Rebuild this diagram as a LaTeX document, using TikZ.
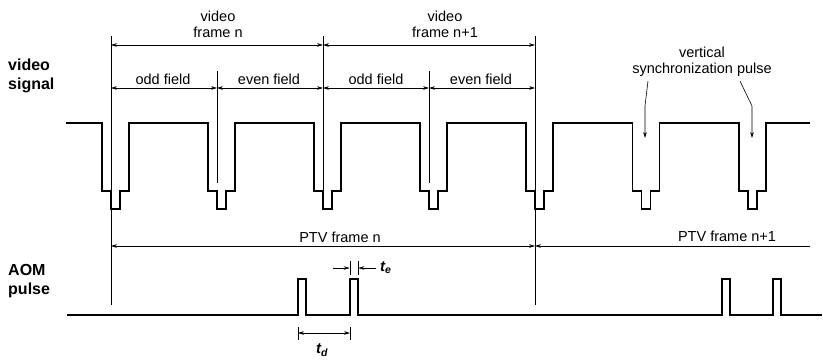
\documentclass[tikz,border=0pt]{standalone}
\usepackage{fontspec}
\setmainfont{Liberation Sans}
\usetikzlibrary{arrows.meta}
\tikzset{
  sig/.style={line width=1.9pt, line join=miter},
  dim/.style={line width=0.6pt},
  tick/.style={line width=0.6pt},
  dimarrow/.style={line width=0.6pt, {Stealth[length=6pt,width=3.6pt]}-{Stealth[length=6pt,width=3.6pt]}},
  larrow/.style={line width=0.6pt, {Stealth[length=6pt,width=3.6pt]}-},
  rarrow/.style={line width=0.6pt, -{Stealth[length=6pt,width=3.6pt]}},
  lbl/.style={font=\fontsize{14.5}{16}\selectfont, inner sep=0pt, align=center},
  tlbl/.style={font=\fontsize{15}{16}\selectfont\bfseries\itshape, inner sep=0pt},
  biglbl/.style={font=\fontsize{16}{19}\selectfont\bfseries, inner sep=0pt, align=left, anchor=west},
}
\begin{document}
\begin{tikzpicture}[x=1pt,y=-1pt]
\useasboundingbox (0,0) rectangle (823,360);

% side labels
\node[biglbl] (vs) at (8,76) {video\\signal};
\node[biglbl] (aom) at (8,281) {AOM\\pulse};

% marker coordinates
\foreach \n/\x in {0/111,1/217,2/323,3/429,4/535}{
  \coordinate (top\n) at (\x,36);
  \coordinate (ft\n) at (\x,71);
  \coordinate (fa\n) at (\x,45);
  \coordinate (fb\n) at (\x,88);
  \coordinate (pa\n) at (\x,246);
}
% vertical marker lines
\draw[tick] (top0) -- (111,305);
\draw[tick] (top2) -- (323,190);
\draw[tick] (top4) -- (535,305);
\draw[tick] (ft1) -- (217,183);
\draw[tick] (ft3) -- (429,183);

% frame arrows
\draw[dimarrow] (fa0) -- (fa2);
\draw[dimarrow] (fa2) -- (fa4);
\node[lbl] (vfn) at (218,24) {video\\frame n};
\node[lbl] (vfn1) at (445,24) {video\\frame n+1};

% field arrows
\draw[dimarrow] (fb0) -- (fb1);
\draw[dimarrow] (fb1) -- (fb2);
\draw[dimarrow] (fb2) -- (fb3);
\draw[dimarrow] (fb3) -- (fb4);
\node[lbl] (of1) at (163,79) {odd field};
\node[lbl] (ef1) at (269,79) {even field};
\node[lbl] (of2) at (376,79) {odd field};
\node[lbl] (ef2) at (481,79) {even field};

% vertical synchronization pulse label
\node[lbl] (vsp) at (702,62) {vertical\\synchronization pulse};
\coordinate (l1a) at (648,81);
\coordinate (l1b) at (645,106);
\coordinate (l1c) at (645,138);
\coordinate (l2a) at (740,81);
\coordinate (l2b) at (752,106);
\coordinate (l2c) at (752,138);
\draw[rarrow] (l1a) -- (l1b) -- (l1c);
\draw[rarrow] (l2a) -- (l2b) -- (l2c);

% video signal
\draw[sig] (66,123) foreach \i in {0,...,6} {
  -- ({102+106.1*\i},123) -- ++(0,68) -- ++(9,0) -- ++(0,18) -- ++(9,0) -- ++(0,-18) -- ++(9,0) -- ++(0,-68)
} -- (810,123);

% PTV frames
\coordinate (pend) at (810,246);
\draw[dimarrow] (pa0) -- (pa4);
\draw[larrow] (pa4) -- (pend);
\node[lbl, anchor=south] (ptvn) at (340,243) {PTV frame n};
\node[lbl, anchor=south] (ptvn1) at (727,242) {PTV frame n+1};

% AOM pulse signal
\draw[sig] (67,315) -- (298,315) -- (298,279) -- (306,279) -- (306,315)
  -- (350,315) -- (350,279) -- (358,279) -- (358,315)
  -- (722,315) -- (722,279) -- (730,279) -- (730,315)
  -- (773,315) -- (773,279) -- (781,279) -- (781,315) -- (822,315);

% t_e
\coordinate (te1) at (350,261);
\coordinate (te2) at (358,261);
\draw[tick] (te1) -- (350,275);
\draw[tick] (te2) -- (358,275);
\coordinate (tea) at (333,268);
\coordinate (teb) at (376,268);
\draw[rarrow] (tea) -- (349.7,268);
\draw[rarrow] (teb) -- (358.3,268);
\node[tlbl, anchor=west] (telbl) at (380,268) {t\textsubscript{e}};

% t_d
\coordinate (td1) at (298,327);
\coordinate (td2) at (350,327);
\draw[tick] (td1) -- (298,340);
\draw[tick] (td2) -- (350,340);
\draw[dimarrow] (298,333) -- (350,333);
\node[tlbl] (tdlbl) at (322,350) {t\textsubscript{d}};
\end{tikzpicture}
\end{document}
